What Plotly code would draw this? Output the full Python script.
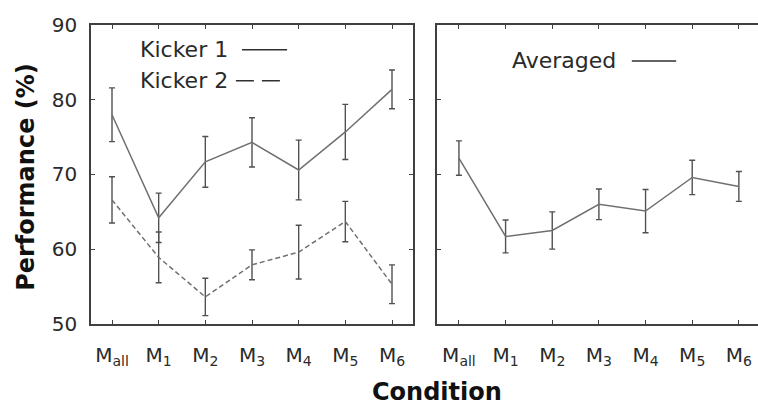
import plotly.graph_objects as go

# Conditions shown on the x axis
conditions = ["M<sub>all</sub>", "M<sub>1</sub>", "M<sub>2</sub>", "M<sub>3</sub>",
              "M<sub>4</sub>", "M<sub>5</sub>", "M<sub>6</sub>"]
cond_idx = list(range(len(conditions)))

# Performance (%) per condition, with error bar half-lengths
kicker1 = [78.0, 64.2, 71.7, 74.3, 70.6, 75.7, 81.4]
kicker1_err = [3.6, 3.3, 3.4, 3.3, 4.0, 3.7, 2.6]
kicker2 = [66.6, 58.9, 53.6, 57.9, 59.6, 63.7, 55.3]
kicker2_err = [3.1, 3.4, 2.5, 2.0, 3.6, 2.7, 2.6]
averaged = [72.2, 61.7, 62.5, 66.0, 65.1, 69.6, 68.4]
averaged_err = [2.3, 2.2, 2.5, 2.05, 2.9, 2.3, 2.0]

y_ticks = [50, 60, 70, 80, 90]

FONT = "DejaVu Sans"
LINE_COL = "#707070"
ERR_COL = "#505050"
FRAME_COL = "#404040"
TEXT_COL = "#2a2a2a"


def err(vals):
    return dict(type="data", array=vals, visible=True, color=ERR_COL,
                thickness=1.4, width=3)


fig = go.Figure()
fig.add_trace(go.Scatter(x=cond_idx, y=kicker1, mode="lines",
                         line=dict(color=LINE_COL, width=1.5),
                         error_y=err(kicker1_err), xaxis="x", yaxis="y",
                         showlegend=False))
fig.add_trace(go.Scatter(x=cond_idx, y=kicker2, mode="lines",
                         line=dict(color=LINE_COL, width=1.5, dash="5px,3px"),
                         error_y=err(kicker2_err), xaxis="x", yaxis="y",
                         showlegend=False))
fig.add_trace(go.Scatter(x=cond_idx, y=averaged, mode="lines",
                         line=dict(color=LINE_COL, width=1.5),
                         error_y=err(averaged_err), xaxis="x2", yaxis="y2",
                         showlegend=False))

W, H = 758, 414
y_dom = [1 - 331 / H, 1 - 14 / H]

common_x = dict(tickmode="array", tickvals=cond_idx, ticktext=conditions,
                ticks="inside", ticklen=4, tickcolor=FRAME_COL, tickwidth=1.2,
                showline=True, linecolor=FRAME_COL, linewidth=1.6,
                showgrid=False, zeroline=False, ticklabelstandoff=12,
                tickfont=dict(family=FONT, size=20, color=TEXT_COL))
common_y = dict(range=[50, 90], tickvals=y_ticks,
                ticks="inside", ticklen=4, tickcolor=FRAME_COL, tickwidth=1.2,
                showline=True, linecolor=FRAME_COL, linewidth=1.6,
                showgrid=False, zeroline=False,
                tickfont=dict(family=FONT, size=20, color=TEXT_COL))

fig.update_layout(
    width=W, height=H,
    margin=dict(l=0, r=0, t=0, b=0),
    paper_bgcolor="white", plot_bgcolor="white",
    xaxis=dict(domain=[91 / W, 413 / W], range=[-0.45, 6.45],
               mirror="ticks", anchor="y", **common_x),
    yaxis=dict(domain=y_dom, mirror="ticks", anchor="x",
               ticklabelstandoff=8, **common_y),
    xaxis2=dict(domain=[437 / W, 1.0], range=[-0.47, 6.41],
                mirror="ticks", anchor="y2", **common_x),
    yaxis2=dict(domain=y_dom, mirror=False, anchor="x2",
                showticklabels=False, **common_y),
)

annotations = [
    dict(text="Kicker 1", xref="x domain", yref="paper",
         x=0.146, y=1 - 40 / H, xanchor="left", yanchor="middle",
         showarrow=False, font=dict(family=FONT, size=22, color=TEXT_COL)),
    dict(text="Kicker 2", xref="x domain", yref="paper",
         x=0.146, y=1 - 73 / H, xanchor="left", yanchor="middle",
         showarrow=False, font=dict(family=FONT, size=22, color=TEXT_COL)),
    dict(text="Averaged", xref="x2 domain", yref="paper",
         x=0.227, y=1 - 52 / H, xanchor="left", yanchor="middle",
         showarrow=False, font=dict(family=FONT, size=22, color=TEXT_COL)),
    dict(text="<b>Performance (%)</b>", xref="paper", yref="paper",
         x=26 / W, y=1 - 175 / H, xanchor="center", yanchor="middle",
         textangle=-90, showarrow=False,
         font=dict(family=FONT, size=24, color="#111111")),
    dict(text="<b>Condition</b>", xref="paper", yref="paper",
         x=437 / W, y=-6 / H, xanchor="center", yanchor="bottom",
         showarrow=False, font=dict(family=FONT, size=24, color="#111111")),
]
fig.update_layout(annotations=annotations)

# Line samples next to the legend labels
legend_col = "#303030"
shapes = [
    dict(type="line", xref="x domain", yref="paper",
         x0=0.469, x1=0.609, y0=1 - 40 / H, y1=1 - 40 / H,
         line=dict(color=legend_col, width=1.6)),
    dict(type="line", xref="x domain", yref="paper",
         x0=0.45, x1=0.59, y0=1 - 73 / H, y1=1 - 73 / H,
         line=dict(color=legend_col, width=1.6, dash="18px,8px")),
    dict(type="line", xref="x2 domain", yref="paper",
         x0=0.607, x1=0.745, y0=1 - 52 / H, y1=1 - 52 / H,
         line=dict(color=legend_col, width=1.6)),
]
fig.update_layout(shapes=shapes)

fig.write_html("out.html")
